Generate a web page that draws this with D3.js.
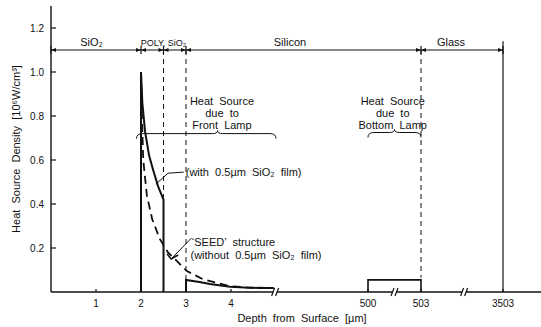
<!DOCTYPE html>
<html>
<head>
<meta charset="utf-8">
<script src="https://cdn.jsdelivr.net/npm/d3@7"></script>
<style>
  body { margin: 0; background: #fff; }
  text { font-family: "Liberation Sans", Arial, sans-serif; fill: #111; }
</style>
</head>
<body>
<svg id="chart" width="541" height="327"></svg>
<script>
// heat source density curves [depth um, 10^6 W/cm3]
var withFilm = [[2,0],[2,1.0],[2.03,0.86],[2.09,0.73],[2.18,0.62],[2.27,0.555],[2.38,0.48],[2.5,0.42],[2.5,0]];
var withFilmTail = [[3,0],[3,0.055],[3.3,0.045],[3.53,0.036],[3.98,0.024],[4.3,0.02],[4.64,0.018],[4.95,0.018]];
var seedCurve = [[2,1.0],[2.02,0.8],[2.05,0.6],[2.13,0.44],[2.25,0.33],[2.42,0.24],[2.6,0.18],[2.8,0.14],[3.02,0.095],[3.38,0.058],[3.98,0.026],[4.4,0.02],[4.95,0.018]];
var bottomLamp = [[500,0],[500,0.055],[503,0.055],[503,0]];

var yTicks = [0.2,0.4,0.6,0.8,1.0,1.2];
var xTicks = [1,2,3,4,500,503,3503];
var axisBreaks = [4.98, 501.5, 2080];

var boundaries = [0,2,2.5,3,503,3503];
var regionNames = ["SiO\u2082","POLY, SiO\u2082","Silicon","Glass"];
var regionCenters = [0.9, 2.5, 80, 1600];
var dashedBounds = [2.5,3,503];

var svg = d3.select("#chart");

// broken depth axis, piecewise linear
var x = d3.scaleLinear()
	.domain([0,5,500,503,3503,4900])
	.range([51,276,368,421,503,541]);
var y = d3.scaleLinear().domain([0,1.3]).range([292,6]);

var line = d3.line().x(function(d){ return x(d[0]); }).y(function(d){ return y(d[1]); });

// axes
svg.append("line").attr("x1",x(0)).attr("x2",x(0)).attr("y1",y(1.3)).attr("y2",y(0))
	.attr("stroke","#111").attr("stroke-width",1.4);
svg.append("line").attr("x1",x(0)).attr("x2",541).attr("y1",y(0)).attr("y2",y(0))
	.attr("stroke","#111").attr("stroke-width",1.4);

svg.selectAll(".ytick").data(yTicks).enter().append("line")
	.attr("x1",x(0)).attr("x2",x(0)+5)
	.attr("y1",function(d){return y(d);}).attr("y2",function(d){return y(d);})
	.attr("stroke","#111").attr("stroke-width",1.2);
svg.selectAll(".ylab").data(yTicks).enter().append("text")
	.attr("x",44).attr("y",function(d){return y(d)+3.5;})
	.attr("text-anchor","end").attr("font-size",10)
	.text(function(d){return d.toFixed(1);});

svg.selectAll(".xtick").data(xTicks).enter().append("line")
	.attr("x1",function(d){return x(d);}).attr("x2",function(d){return x(d);})
	.attr("y1",y(0)).attr("y2",y(0)-3)
	.attr("stroke","#111").attr("stroke-width",1.2);
svg.selectAll(".xlab").data(xTicks).enter().append("text")
	.attr("x",function(d){return x(d);}).attr("y",307)
	.attr("text-anchor","middle").attr("font-size",10)
	.text(function(d){return d;});

// axis break marks
axisBreaks.forEach(function(b){
	var bx = x(b), by = y(0);
	svg.append("rect").attr("x",bx-2).attr("y",by-2).attr("width",4).attr("height",4).attr("fill","#fff");
	[-2,2].forEach(function(o){
		svg.append("line").attr("x1",bx+o-1.5).attr("x2",bx+o+1.5)
			.attr("y1",by+4).attr("y2",by-4).attr("stroke","#111").attr("stroke-width",1.2);
	});
});

// layer dimension line at top
var topY = y(1.1);
svg.append("line").attr("x1",x(0)).attr("x2",x(3503)).attr("y1",topY).attr("y2",topY)
	.attr("stroke","#111").attr("stroke-width",1.2);
boundaries.forEach(function(b){
	svg.append("line").attr("x1",x(b)).attr("x2",x(b)).attr("y1",topY-4).attr("y2",topY+4)
		.attr("stroke","#111").attr("stroke-width",1.2);
});
for (var i = 0; i < boundaries.length-1; i++){
	var a = x(boundaries[i]), b = x(boundaries[i+1]);
	svg.append("path").attr("d","M"+a+","+topY+"l5,-2l0,4z").attr("fill","#111");
	svg.append("path").attr("d","M"+b+","+topY+"l-5,-2l0,4z").attr("fill","#111");
}
svg.selectAll(".region").data(regionNames).enter().append("text")
	.attr("x",function(d,i){ return x(regionCenters[i]); })
	.attr("y",topY-4)
	.attr("text-anchor","middle")
	.attr("font-size",function(d,i){ return i==1 ? 9 : 11; })
	.text(function(d){ return d; });

// dashed layer boundaries
svg.selectAll(".bound").data(dashedBounds).enter().append("line")
	.attr("x1",function(d){return x(d);}).attr("x2",function(d){return x(d);})
	.attr("y1",topY).attr("y2",function(d){ return d > 100 ? y(0.065) : y(0); })
	.attr("stroke","#111").attr("stroke-width",1).attr("stroke-dasharray","5,4");
svg.append("line").attr("x1",x(3503)).attr("x2",x(3503)).attr("y1",y(1.14)).attr("y2",y(0))
	.attr("stroke","#111").attr("stroke-width",1.2);

// curves
svg.append("path").datum(withFilm).attr("d",line).attr("fill","none")
	.attr("stroke","#111").attr("stroke-width",2);
svg.append("path").datum(withFilmTail).attr("d",line).attr("fill","none")
	.attr("stroke","#111").attr("stroke-width",2);
svg.append("path").datum(seedCurve).attr("d",line).attr("fill","none")
	.attr("stroke","#111").attr("stroke-width",1.8).attr("stroke-dasharray","8,5");
svg.append("path").datum(bottomLamp).attr("d",line).attr("fill","none")
	.attr("stroke","#111").attr("stroke-width",1.6);

// braces
function brace(x1, x2, yy, xm){
	return "M"+x1+","+(yy+5)+"Q"+x1+","+yy+" "+(x1+6)+","+yy+"L"+(xm-5)+","+yy+
		"Q"+xm+","+yy+" "+xm+","+(yy-3)+"Q"+xm+","+yy+" "+(xm+5)+","+yy+
		"L"+(x2-6)+","+yy+"Q"+x2+","+yy+" "+x2+","+(yy+5);
}
svg.append("path").attr("d",brace(x(1.9),x(5.15),y(0.72),x(3.7))).attr("fill","none").attr("stroke","#111");
svg.append("path").attr("d",brace(x(499.8),x(503.2),y(0.725),x(501.5))).attr("fill","none").attr("stroke","#111");

function label(lines, cx, top){
	var t = svg.append("text").attr("font-size",11).attr("text-anchor","middle");
	lines.forEach(function(s,i){
		t.append("tspan").attr("x",cx).attr("y",top+i*12).attr("xml:space","preserve").text(s);
	});
}
label(["Heat  Source","due  to","Front  Lamp"], x(3.8), y(0.85));
label(["Heat  Source","due  to","Bottom  Lamp"], x(501.4), y(0.85));

// annotation: with film
var p0 = [x(2.33),y(0.49)], p1 = [x(2.6),y(0.54)], p2 = [x(2.95),y(0.545)];
svg.append("path").attr("d","M"+p0+"L"+p1+"L"+p2).attr("fill","none").attr("stroke","#111");
svg.append("text").attr("x",p2[0]+2).attr("y",p2[1]+4).attr("font-size",11)
	.attr("xml:space","preserve").text("(with  0.5\u00b5m  SiO\u2082  film)");

// annotation: SEED
var q0 = [x(3.12),y(0.245)], q1 = [x(2.67),y(0.15)];
svg.append("line").attr("x1",q0[0]).attr("y1",q0[1]).attr("x2",q1[0]).attr("y2",q1[1]).attr("stroke","#111");
svg.append("path").attr("d","M"+(q1[0]-4)+","+(q1[1]-5)+"L"+q1[0]+","+q1[1]+"L"+(q1[0]+7)+","+(q1[1]-4))
	.attr("fill","none").attr("stroke","#111").attr("stroke-width",1.5);
svg.append("text").attr("x",x(3.13)).attr("y",y(0.21)).attr("font-size",11)
	.attr("xml:space","preserve").text("\u2018SEED\u2019  structure");
svg.append("text").attr("x",x(3.1)).attr("y",y(0.15)).attr("font-size",11)
	.attr("xml:space","preserve").text("(without  0.5\u00b5m  SiO\u2082  film)");

// axis titles
svg.append("text").attr("x",302).attr("y",322).attr("text-anchor","middle").attr("font-size",11)
	.attr("xml:space","preserve").text("Depth  from  Surface  [\u00b5m]");
svg.append("text").attr("transform","translate(20,"+y(0.65)+") rotate(-90)")
	.attr("text-anchor","middle").attr("font-size",11).attr("xml:space","preserve")
	.text("Heat  Source  Density  [10\u2076W/cm\u00b3]");
</script>
</body>
</html>
